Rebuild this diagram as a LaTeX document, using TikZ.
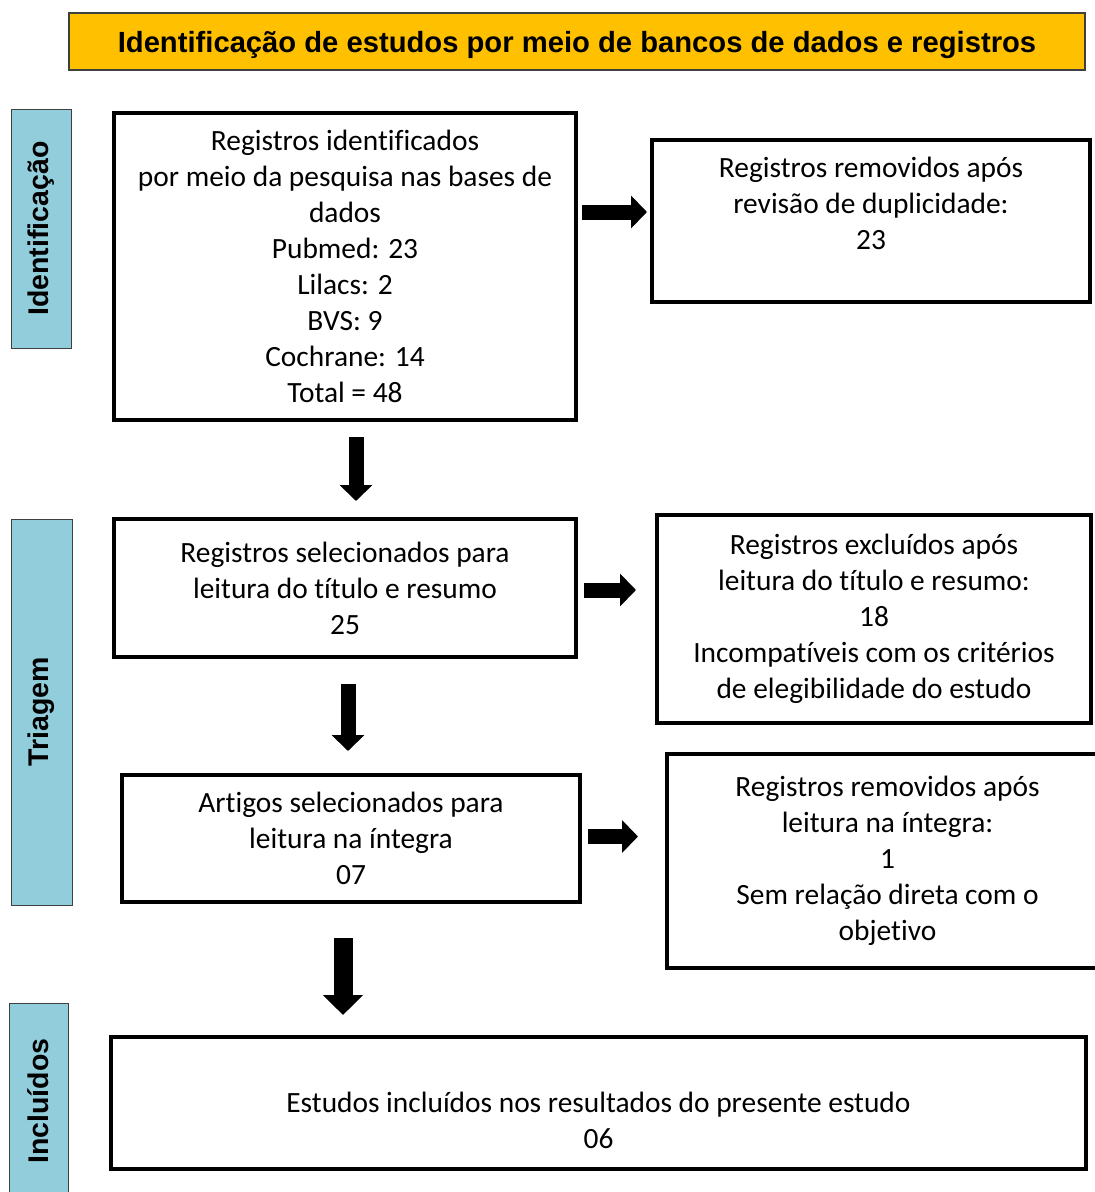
\documentclass[tikz,border=0pt]{standalone}
\usepackage{fontspec}
\setmainfont{Carlito}[Ligatures=NoCommon]
\newfontfamily\arialfont{Liberation Sans}
\usetikzlibrary{calc,arrows.meta}
\definecolor{ouro}{HTML}{FFC000}
\definecolor{azul}{HTML}{92CDDC}
\definecolor{borda}{HTML}{3F3F3F}
\tikzset{
  caixa/.style={draw=black, line width=4pt, align=center, inner sep=0pt, font=\fontsize{29.4}{36}\selectfont},
  faixa/.style={draw=borda, fill=azul, line width=1pt, rotate=90, inner sep=0pt, font=\arialfont\bfseries\fontsize{28.5}{34}\selectfont},
  titulo/.style={draw=borda, fill=ouro, line width=1.2pt, inner sep=0pt, text height=27pt, text depth=6pt, font=\arialfont\bfseries\fontsize{29.2}{34}\selectfont},
  seta/.style={line width=15pt, -{Triangle[width=32pt,length=16pt]}},
}

\begin{document}
\begin{tikzpicture}[x=1pt,y=-1pt]
  \useasboundingbox (0,0) rectangle (1095,1192);
  % titulo e faixas laterais
  \node[titulo, minimum width=1016pt, minimum height=57pt] (tit) at (577,41.5)
    {Identificação de estudos por meio de bancos de dados e registros};
  \node[faixa, minimum width=239pt, minimum height=60pt] (fid) at (41,228.5) {Identificação};
  \node[faixa, minimum width=386pt, minimum height=61pt] (ftr) at (41.5,712) {Triagem};
  \node[faixa, minimum width=196pt, minimum height=59pt] (finc) at (38.5,1101) {Incluídos};
  % caixas
  \node[caixa, minimum width=462pt, minimum height=307pt] (regid) at (345,266.5)
    {Registros identificados\\por meio da pesquisa nas bases de\\dados\\Pubmed: 23\\Lilacs: 2\\BVS: 9\\Cochrane: 14\\Total = 48};
  \node[caixa, minimum width=438pt, minimum height=162pt] (dup) at (871,221)
    {Registros removidos após\\revisão de duplicidade:\\23\\\mbox{}};
  \node[caixa, minimum width=462pt, minimum height=138pt] (sel) at (345,588)
    {Registros selecionados para\\leitura do título e resumo\\25};
  \node[caixa, minimum width=434pt, minimum height=208pt] (excl) at (874,619)
    {Registros excluídos após\\leitura do título e resumo:\\18\\Incompatíveis com os critérios\\de elegibilidade do estudo};
  \node[caixa, minimum width=458pt, minimum height=127pt] (art) at (351,838.5)
    {Artigos selecionados para\\leitura na íntegra\\07};
  \node[caixa, minimum width=441pt, minimum height=214pt] (rem) at (887.5,861)
    {Registros removidos após\\leitura na íntegra:\\1\\Sem relação direta com o\\objetivo};
  \node[caixa, minimum width=975pt, minimum height=132pt] (incl) at (598.5,1103)
    {\mbox{}\\[20pt]Estudos incluídos nos resultados do presente estudo\\06};
  % setas
  \draw[seta] ($(regid.east |- dup.west)+(4,-9)$) -- ($(dup.west)+(-3,-9)$);
  \draw[seta] ($(regid.south)+(11,15)$) -- ($(sel.north)+(11,-16)$);
  \draw[seta] ($(sel.east)+(6,2)$) -- ($(sel.east -| excl.west)+(-19,2)$);
  \draw[seta] ($(sel.south)+(3,25)$) -- ($(art.north)+(-3,-22)$);
  \draw[seta] ($(art.east)+(6,-2)$) -- ($(art.east -| rem.west)+(-27,-2)$);
  \draw[seta, line width=19pt, -{Triangle[width=39pt,length=20pt]}] ($(art.south)+(-8,34)$) -- ($(incl.north -| art.south)+(-8,-20)$);
\end{tikzpicture}
\end{document}
